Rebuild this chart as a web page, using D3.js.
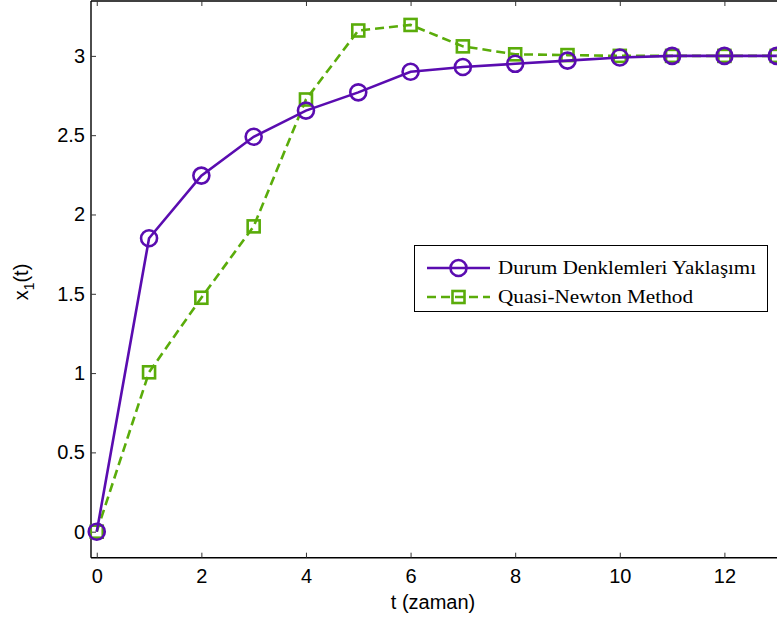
<!DOCTYPE html>
<html>
<head>
<meta charset="utf-8">
<script src="https://cdn.jsdelivr.net/npm/d3@7"></script>
<style>
  html, body { margin: 0; padding: 0; background: #fff; }
  svg { display: block; }
</style>
</head>
<body>
<svg id="chart" width="777" height="623"></svg>
<script>
// Time steps and the two solution trajectories of x1(t)
const tValues = [0, 1, 2, 3, 4, 5, 6, 7, 8, 9, 10, 11, 12, 13];
const durumValues = [0, 1.85, 2.245, 2.49, 2.655, 2.77, 2.9, 2.93, 2.95, 2.97, 2.99, 3.0, 3.0, 3.0];
const quasiValues = [0, 1.005, 1.475, 1.925, 2.725, 3.16, 3.195, 3.06, 3.01, 3.005, 3.0, 3.0, 3.0, 3.0];
const seriesNames = ["Durum Denklemleri Yaklaşımı", "Quasi-Newton Method"];
const xTicks = [0, 2, 4, 6, 8, 10, 12];
const yTicks = [0, 0.5, 1, 1.5, 2, 2.5, 3];
const yTickLabels = ["0", "0.5", "1", "1.5", "2", "2.5", "3"];

const purple = "#5a0cb0";
const green = "#5aac0a";

const svg = d3.select("#chart");

const plotLeft = 91, plotTop = 1, plotBottom = 557.7, plotRight = 776.7;
const x = d3.scaleLinear().domain([-0.11, 13]).range([plotLeft, plotRight]);
const y = d3.scaleLinear().domain([-0.164, 3.346]).range([plotBottom, plotTop]);

// Axes
const tickFont = "Liberation Sans, Arial, sans-serif";
const fontSize = 20;
const xAxis = d3.axisBottom(x).tickValues(xTicks).tickSize(-5).tickPadding(11).tickFormat(d3.format("d"));
const gx = svg.append("g").attr("transform", `translate(0,${plotBottom})`).call(xAxis);
const xTopAxis = d3.axisTop(x).tickValues(xTicks).tickSize(-5).tickFormat("");
const gxt = svg.append("g").attr("transform", `translate(0,${plotTop})`).call(xTopAxis);
const yAxis = d3.axisLeft(y).tickValues(yTicks).tickSize(-5).tickPadding(6)
  .tickFormat((d, i) => yTickLabels[i]);
const gy = svg.append("g").attr("transform", `translate(${plotLeft},0)`).call(yAxis);

[gx, gxt, gy].forEach(g => {
  g.select(".domain").attr("stroke", "#000").attr("stroke-width", 1.4);
  g.selectAll(".tick line").attr("stroke", "#333").attr("stroke-width", 1);
  g.selectAll(".tick text").attr("font-family", tickFont).attr("font-size", fontSize).attr("fill", "#000");
});
gx.select(".domain").attr("d", `M${plotLeft},0H${plotRight + 10}`);
gxt.select(".domain").attr("d", `M${plotLeft},0H${plotRight + 10}`);
gy.select(".domain").attr("d", `M0,${plotBottom}V${plotTop}`);

// Axis titles
svg.append("text")
  .attr("x", 433).attr("y", 609)
  .attr("text-anchor", "middle")
  .attr("font-family", tickFont).attr("font-size", fontSize)
  .text("t (zaman)");

const yl = svg.append("text")
  .attr("transform", "translate(28,282) rotate(-90)")
  .attr("text-anchor", "middle")
  .attr("font-family", tickFont).attr("font-size", fontSize);
yl.append("tspan").text("x");
yl.append("tspan").attr("font-size", 14).attr("dy", 6).text("1");
yl.append("tspan").attr("dy", -6).text("(t)");

// Series
const plot = svg.append("g");
const line = d3.line().x((d, i) => x(tValues[i])).y(d => y(d));

plot.append("path").datum(quasiValues)
  .attr("d", line).attr("fill", "none")
  .attr("stroke", green).attr("stroke-width", 2.6)
  .attr("stroke-dasharray", "9,5");

plot.selectAll("rect.q").data(quasiValues).enter().append("rect")
  .attr("class", "q")
  .attr("x", (d, i) => x(tValues[i]) - 6)
  .attr("y", d => y(d) - 6)
  .attr("width", 12).attr("height", 12)
  .attr("fill", "none").attr("stroke", green).attr("stroke-width", 2.6);

plot.append("path").datum(durumValues)
  .attr("d", line).attr("fill", "none")
  .attr("stroke", purple).attr("stroke-width", 2.6);

plot.selectAll("circle.d").data(durumValues).enter().append("circle")
  .attr("class", "d")
  .attr("cx", (d, i) => x(tValues[i]))
  .attr("cy", d => y(d))
  .attr("r", 8)
  .attr("fill", "none").attr("stroke", purple).attr("stroke-width", 2.6);

// Legend
const lg = svg.append("g");
lg.append("rect")
  .attr("x", 414.5).attr("y", 245.5).attr("width", 353).attr("height", 66)
  .attr("fill", "#fff").attr("stroke", "#000").attr("stroke-width", 1);

const legendFont = "Liberation Serif, Times New Roman, serif";
const rows = [
  { name: seriesNames[0], color: purple, dash: null, marker: "circle", yPos: 268, len: 258 },
  { name: seriesNames[1], color: green, dash: "9,5", marker: "square", yPos: 297, len: 195 }
];
rows.forEach(r => {
  lg.append("line")
    .attr("x1", 427).attr("x2", 490).attr("y1", r.yPos).attr("y2", r.yPos)
    .attr("stroke", r.color).attr("stroke-width", 2.6)
    .attr("stroke-dasharray", r.dash);
  if (r.marker === "circle") {
    lg.append("circle").attr("cx", 458.5).attr("cy", r.yPos).attr("r", 8)
      .attr("fill", "none").attr("stroke", r.color).attr("stroke-width", 2.6);
  } else {
    lg.append("rect").attr("x", 452.5).attr("y", r.yPos - 6).attr("width", 12).attr("height", 12)
      .attr("fill", "none").attr("stroke", r.color).attr("stroke-width", 2.6);
  }
  lg.append("text")
    .attr("x", 498).attr("y", r.yPos + 6)
    .attr("font-family", legendFont).attr("font-size", 19)
    .attr("textLength", r.len).attr("lengthAdjust", "spacingAndGlyphs")
    .text(r.name);
});
</script>
</body>
</html>
